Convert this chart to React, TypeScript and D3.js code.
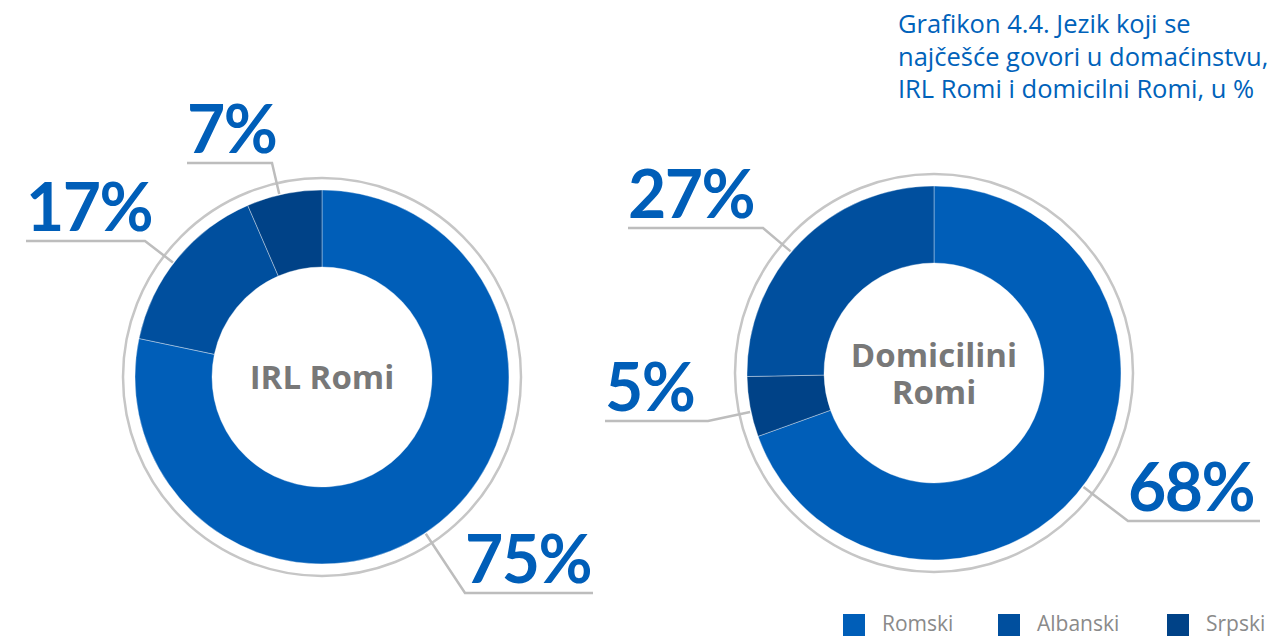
import React from "react";
import * as d3 from "d3";

// ---- data ----
const categories = ["Romski", "Albanski", "Srpski"];
const categoryColors = ["#005EB8", "#004F9E", "#004287"];

// slice order as drawn (clockwise from 12 o'clock)
const irlOrder = ["Romski", "Albanski", "Srpski"];
const irlShares = [78.3, 15.2, 6.5]; // arc sizes as drawn
const irlLabels = ["75%", "17%", "7%"];

const domOrder = ["Romski", "Srpski", "Albanski"];
const domShares = [69.5, 5.2, 25.3];
const domLabels = ["68%", "5%", "27%"];

const titleLines = [
  "Grafikon 4.4. Jezik koji se",
  "najčešće govori u domaćinstvu,",
  "IRL Romi i domicilni Romi, u %",
];

const W = 1275;
const H = 636;
const R_OUT = 187;
const R_IN = 110;
const R_RING = 199;
const BLUE_TEXT = "#005EB8";
const FONT = "Lato, 'Open Sans', sans-serif";
const FONT2 = "'Open Sans', Lato, sans-serif";

type Leader = { ex: number; ey: number; endX: number };

function Donut({
  cx,
  cy,
  order,
  shares,
  labels,
  leaders,
  centerLines,
}: {
  cx: number;
  cy: number;
  order: string[];
  shares: number[];
  labels: string[];
  leaders: Leader[];
  centerLines: string[];
}) {
  const color = d3.scaleOrdinal<string, string>().domain(categories).range(categoryColors);
  const pie = d3
    .pie<number>()
    .sort(null)
    .value((d) => d)
    .startAngle(0)
    .endAngle(2 * Math.PI);
  const arcs = pie(shares);
  const arcGen = d3.arc<d3.PieArcDatum<number>>().innerRadius(R_IN).outerRadius(R_OUT);
  return (
    <g transform={`translate(${cx},${cy})`}>
      <circle r={R_RING} fill="none" stroke="#c6c6c6" strokeWidth={2.5} />
      {arcs.map((a, i) => (
        <path
          key={i}
          d={arcGen(a) || ""}
          fill={color(order[i])}
          stroke="rgba(255,255,255,0.45)"
          strokeWidth={0.8}
        />
      ))}
      {leaders.map((l, i) => {
        const len = Math.hypot(l.ex, l.ey);
        const sx = (l.ex / len) * (R_OUT + 1);
        const sy = (l.ey / len) * (R_OUT + 1);
        const endXr = l.endX - cx;
        const leftX = Math.min(l.ex, endXr);
        return (
          <g key={i}>
            <polyline
              points={`${sx},${sy} ${l.ex},${l.ey} ${endXr},${l.ey}`}
              fill="none"
              stroke="#bdbdbd"
              strokeWidth={2.5}
            />
            <text
              x={leftX}
              y={l.ey - 10}
              fill={BLUE_TEXT}
              fontFamily={FONT}
              fontWeight={700}
              fontSize={66}
              letterSpacing={-1.5}
            >
              {labels[i]}
            </text>
          </g>
        );
      })}
      <text
        textAnchor="middle"
        fill="#787878"
        fontFamily={FONT2}
        fontWeight={700}
        fontSize={33}
      >
        {centerLines.map((t, i) => (
          <tspan key={i} x={0} y={(i - (centerLines.length - 1) / 2) * 37 + 12}>
            {t}
          </tspan>
        ))}
      </text>
    </g>
  );
}

export default function App() {
  const legendX = [843, 998, 1167];
  return (
    <div style={{ position: "absolute", left: 0, top: 0 }}>
      <svg width={W} height={H} style={{ display: "block", background: "#fff" }}>
        {titleLines.map((t, i) => (
          <text
            key={i}
            x={898}
            y={33 + i * 32.5}
            fill="#0062BA"
            fontFamily={FONT2}
            fontSize={25.5}
          >
            {t}
          </text>
        ))}
        <Donut
          cx={322}
          cy={377}
          order={irlOrder}
          shares={irlShares}
          labels={irlLabels}
          leaders={[
            { ex: 143, ey: 216, endX: 593 },
            { ex: -177, ey: -136, endX: 26 },
            { ex: -50, ey: -214, endX: 187 },
          ]}
          centerLines={["IRL Romi"]}
        />
        <Donut
          cx={934}
          cy={373}
          order={domOrder}
          shares={domShares}
          labels={domLabels}
          leaders={[
            { ex: 194, ey: 148, endX: 1260 },
            { ex: -226, ey: 48, endX: 605 },
            { ex: -171, ey: -145, endX: 628 },
          ]}
          centerLines={["Domicilini", "Romi"]}
        />
        {categories.map((c, i) => (
          <g key={c}>
            <rect x={legendX[i]} y={614} width={22} height={22} fill={categoryColors[i]} />
            <text
              x={legendX[i] + 39}
              y={631}
              fill="#8a8a8a"
              fontFamily={FONT2}
              fontSize={21}
            >
              {c}
            </text>
          </g>
        ))}
      </svg>
    </div>
  );
}
